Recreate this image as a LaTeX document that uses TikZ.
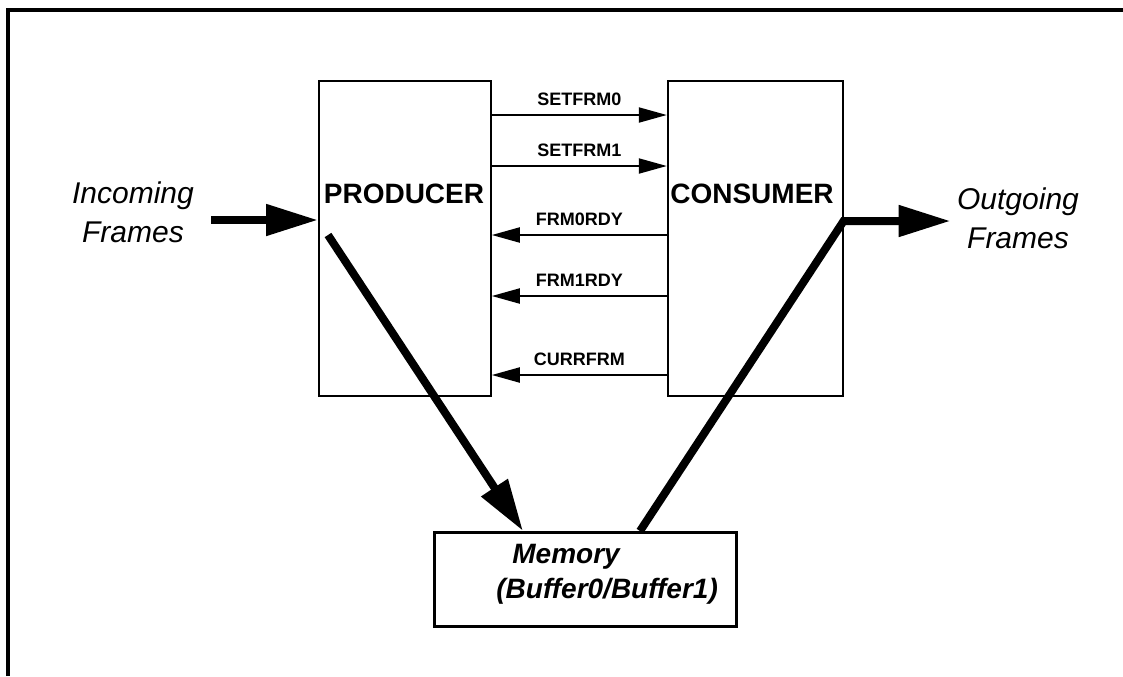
\documentclass[tikz,border=0pt]{standalone}
\usepackage{fontspec}
\setmainfont{Liberation Sans}
\usetikzlibrary{arrows.meta,positioning,calc}

\begin{document}
\begin{tikzpicture}[
    x=0.5pt, y=-0.5pt,
    block/.style={rectangle, draw, line width=0.9pt, inner sep=0pt,
                  minimum height=157.5pt},
    memblock/.style={rectangle, draw, line width=1.5pt, inner sep=0pt,
                  minimum width=151pt, minimum height=47pt, anchor=north west},
    blocklabel/.style={font=\fontsize{14}{16}\selectfont\bfseries, inner sep=0pt},
    iolabel/.style={font=\fontsize{15}{19.5}\selectfont\itshape, align=center, inner sep=0pt},
    memlabel/.style={font=\fontsize{14}{16}\selectfont\bfseries\itshape, inner sep=0pt, anchor=base west},
    siglabel/.style={font=\fontsize{9}{11}\selectfont\bfseries, inner sep=0pt, anchor=base, yshift=5pt},
    sig/.style={line width=1pt, -{Triangle[length=14pt,width=7.5pt]}},
    bigarrow/.style={line width=4pt, -{Triangle[length=26pt,width=15pt]}}
]
\useasboundingbox (0,0) rectangle (1123,676);
% frame
\draw[line width=1.75pt] (8,676) -- (8,10) -- (1123,10);

% blocks
\node[block, minimum width=86pt, anchor=north west] (producer) at (318,80) {};
\node[block, minimum width=87.5pt, right=87.5pt of producer] (consumer) {};
\node[memblock] (memory) at (433,531) {};

\node[blocklabel] (prodname) at (404,194) {PRODUCER};
\node[blocklabel] (consname) at (752,194) {CONSUMER};
\node[memlabel] (memname) at (512,563) {Memory};
\node[memlabel] (membuf) at (496,598) {(Buffer0/Buffer1)};

\node[iolabel] (incoming) at (133,212) {Incoming\\Frames};
\node[iolabel] (outgoing) at (1018,218) {Outgoing\\Frames};

% handshake signals
\foreach \dy/\sname in {35/SETFRM0, 86/SETFRM1}
  \draw[sig] ($(producer.north east)+(0,\dy)$) -- node[siglabel] {\sname} ($(consumer.north west)+(0,\dy)$);
\foreach \dy/\sname in {155/FRM0RDY, 216/FRM1RDY, 295/CURRFRM}
  \draw[sig] ($(consumer.north west)+(0,\dy)$) -- node[siglabel] {\sname} ($(producer.north east)+(0,\dy)$);

% data paths
\coordinate (inStart) at (211,220);
\draw[bigarrow] (inStart) -- (inStart -| producer.west);
\draw[bigarrow] ($(producer.north west)+(10,155)$) -- ($(memory.north west)+(90,0)$);
\coordinate (outCorner) at ($(consumer.north east)+(0,141)$);
\draw[bigarrow] ($(memory.north west)+(207,0)$) -- (outCorner) -- ($(outCorner)+(107,0)$);
\end{tikzpicture}
\end{document}
